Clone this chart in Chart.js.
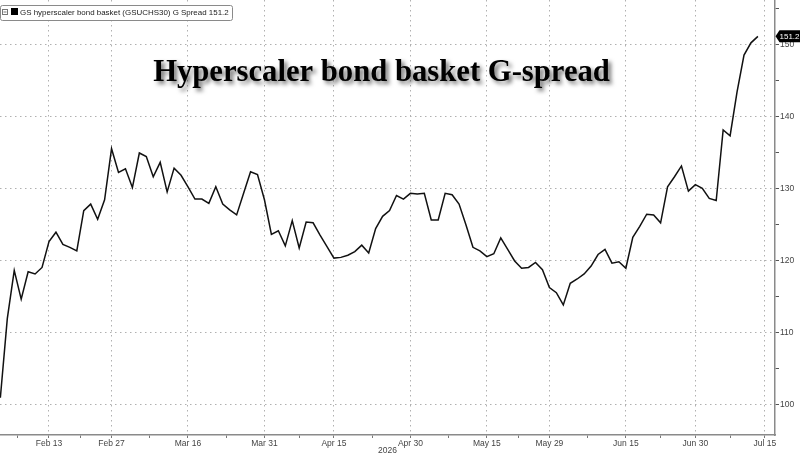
<!DOCTYPE html>
<html><head><meta charset="utf-8">
<script src="https://cdn.jsdelivr.net/npm/chart.js@4.4.1/dist/chart.umd.min.js"></script>
<style>html,body{margin:0;padding:0;background:#fff;}canvas{display:block;}</style>
</head><body>
<canvas id="c" width="800" height="456"></canvas>
<script>
const titleText = 'Hyperscaler bond basket G-spread';
const seriesName = 'GS hyperscaler bond basket (GSUCHS30) G Spread';
const yearLabel = '2026';

const dates = [
 '2026-02-04','2026-02-05','2026-02-06','2026-02-09','2026-02-10','2026-02-11','2026-02-12','2026-02-13',
 '2026-02-17','2026-02-18','2026-02-19','2026-02-20','2026-02-23','2026-02-24','2026-02-25','2026-02-26','2026-02-27',
 '2026-03-02','2026-03-03','2026-03-04','2026-03-05','2026-03-06','2026-03-09','2026-03-10','2026-03-11','2026-03-12','2026-03-13',
 '2026-03-16','2026-03-17','2026-03-18','2026-03-19','2026-03-20','2026-03-23','2026-03-24','2026-03-25','2026-03-26','2026-03-27',
 '2026-03-30','2026-03-31','2026-04-01','2026-04-02','2026-04-06','2026-04-07','2026-04-08','2026-04-09','2026-04-10',
 '2026-04-13','2026-04-14','2026-04-15','2026-04-16','2026-04-17','2026-04-20','2026-04-21','2026-04-22','2026-04-23','2026-04-24',
 '2026-04-27','2026-04-28','2026-04-29','2026-04-30','2026-05-01','2026-05-04','2026-05-05','2026-05-06','2026-05-07','2026-05-08',
 '2026-05-11','2026-05-12','2026-05-13','2026-05-14','2026-05-15','2026-05-18','2026-05-19','2026-05-20','2026-05-21','2026-05-22',
 '2026-05-26','2026-05-27','2026-05-28','2026-05-29','2026-06-01','2026-06-02','2026-06-03','2026-06-04','2026-06-05',
 '2026-06-08','2026-06-09','2026-06-10','2026-06-11','2026-06-12','2026-06-15','2026-06-16','2026-06-17','2026-06-18',
 '2026-06-22','2026-06-23','2026-06-24','2026-06-25','2026-06-26','2026-06-29','2026-06-30','2026-07-01','2026-07-02',
 '2026-07-06','2026-07-07','2026-07-08','2026-07-09','2026-07-10','2026-07-13','2026-07-14'
];

const spread = [
 101.0,112.0,118.7,114.7,118.5,118.2,119.1,122.7,
 124.0,122.3,121.9,121.4,127.0,127.9,125.8,128.5,135.6,
 132.3,132.8,130.2,135.0,134.5,131.7,133.7,129.6,132.9,131.9,
 130.3,128.6,128.6,128.0,130.3,127.9,127.1,126.4,129.4,132.4,
 132.0,128.5,123.7,124.2,122.1,125.6,121.8,125.4,125.3,
 123.6,122.0,120.4,120.5,120.8,121.3,122.2,121.1,124.5,126.2,
 127.0,129.1,128.6,129.4,129.3,129.4,125.7,125.7,129.4,129.2,
 127.9,125.0,121.9,121.4,120.6,121.0,123.2,121.6,120.0,119.0,
 119.1,119.8,118.8,116.3,115.6,113.9,116.9,117.5,118.2,
 119.3,120.9,121.6,119.7,119.9,119.0,123.3,124.8,126.5,
 126.4,125.3,130.3,131.7,133.2,129.7,130.6,130.1,128.7,
 128.4,138.2,137.4,143.5,148.6,150.3,151.2
];

const xTickDates = ['2026-02-13','2026-02-27','2026-03-16','2026-03-31','2026-04-15','2026-04-30','2026-05-15','2026-05-29','2026-06-15','2026-06-30','2026-07-15'];
const xTickLabels = ['Feb 13','Feb 27','Mar 16','Mar 31','Apr 15','Apr 30','May 15','May 29','Jun 15','Jun 30','Jul 15'];
const yTickValues = [100,110,120,130,140,150];

// trading-day index of each tick date (Jul 15 is the session after the last one)
const idxOf = d => { const i = dates.indexOf(d); return i >= 0 ? i : dates.length; };
const majorX = xTickDates.map(idxOf);
const minorX = [majorX[0] - (majorX[1] - majorX[0]) / 2];
for (let i = 1; i < majorX.length; i++) minorX.push((majorX[i - 1] + majorX[i]) / 2);
const xLabelAt = {};
majorX.forEach((v, i) => { xLabelAt[v] = xTickLabels[i]; });
const minorY = yTickValues.map(v => v + 5);

const points = spread.map((v, i) => ({x: i, y: v}));
const lastVal = spread[spread.length - 1];

const AXIS_FONT = {family: '"Liberation Sans", Arial, sans-serif', size: 8.5};
const GRID = '#b0b0b0';

const overlay = {
  id: 'overlay',
  afterDraw(chart) {
    const ctx = chart.ctx;
    const area = chart.chartArea;
    const ys = chart.scales.y;
    ctx.save();
    ctx.font = 'bold 30px "Liberation Serif", "Times New Roman", serif';
    let w = ctx.measureText(titleText).width;
    const ts = 30 * 457 / w;
    ctx.font = 'bold ' + ts.toFixed(2) + 'px "Liberation Serif", "Times New Roman", serif';
    ctx.textAlign = 'center';
    ctx.textBaseline = 'alphabetic';
    ctx.shadowColor = 'rgba(0,0,0,0.55)';
    ctx.shadowBlur = 4;
    ctx.shadowOffsetX = 3;
    ctx.shadowOffsetY = 3;
    ctx.fillStyle = '#000';
    ctx.fillText(titleText, 381.5, 81);
    ctx.restore();

    // Legend box
    ctx.save();
    ctx.fillStyle = '#fff';
    ctx.strokeStyle = '#8a8a8a';
    ctx.lineWidth = 1;
    ctx.beginPath();
    if (ctx.roundRect) ctx.roundRect(0.5, 5.5, 232, 15, 2); else ctx.rect(0.5, 5.5, 232, 15);
    ctx.fill();
    ctx.stroke();
    ctx.strokeStyle = '#777';
    ctx.strokeRect(2.5, 9.5, 5, 5);
    ctx.beginPath(); ctx.moveTo(3.5, 12); ctx.lineTo(6.5, 12); ctx.stroke();
    ctx.fillStyle = '#000';
    ctx.fillRect(11, 8, 7, 7);
    const legendText = seriesName + ' ' + lastVal.toFixed(1);
    ctx.font = '9px "Liberation Sans", Arial, sans-serif';
    w = ctx.measureText(legendText).width;
    const ls = 9 * 209 / w;
    ctx.font = ls.toFixed(2) + 'px "Liberation Sans", Arial, sans-serif';
    ctx.fillStyle = '#222';
    ctx.textAlign = 'left';
    ctx.textBaseline = 'alphabetic';
    ctx.fillText(legendText, 20, 14.8);
    ctx.restore();

    // Year label
    ctx.save();
    ctx.font = '8.5px "Liberation Sans", Arial, sans-serif';
    ctx.fillStyle = '#444';
    ctx.textAlign = 'center';
    ctx.textBaseline = 'alphabetic';
    ctx.fillText(yearLabel, (area.left + area.right) / 2, 453);
    ctx.restore();

    // Last value tag
    ctx.save();
    const py = ys.getPixelForValue(lastVal);
    const x0 = area.right + 0.5;
    ctx.fillStyle = '#000';
    ctx.beginPath();
    ctx.moveTo(x0, py);
    ctx.lineTo(x0 + 4, py - 6);
    ctx.lineTo(800, py - 6);
    ctx.lineTo(800, py + 6);
    ctx.lineTo(x0 + 4, py + 6);
    ctx.closePath();
    ctx.fill();
    ctx.fillStyle = '#fff';
    ctx.font = '8px "Liberation Sans", Arial, sans-serif';
    ctx.textAlign = 'left';
    ctx.textBaseline = 'middle';
    ctx.fillText(lastVal.toFixed(1), x0 + 4, py + 0.5);
    ctx.restore();
  }
};

new Chart(document.getElementById('c'), {
  type: 'line',
  data: {
    datasets: [{
      label: seriesName,
      data: points,
      borderColor: '#111',
      borderWidth: 1.5,
      pointRadius: 0,
      tension: 0,
      fill: false
    }]
  },
  options: {
    responsive: false,
    animation: false,
    devicePixelRatio: 1,
    layout: {padding: 0},
    plugins: {legend: {display: false}, title: {display: false}, tooltip: {enabled: false}},
    scales: {
      x: {
        type: 'linear',
        position: 'bottom',
        min: -0.05,
        max: 111.46,
        afterBuildTicks: s => {
          s.ticks = majorX.concat(minorX).sort((a, b) => a - b).map(v => ({value: v}));
        },
        afterFit: s => { s.height = 21; s.paddingLeft = 0; s.paddingRight = 0; },
        ticks: {
          autoSkip: false,
          maxRotation: 0,
          padding: 1,
          color: '#444',
          font: AXIS_FONT,
          callback: v => (xLabelAt[v] !== undefined ? xLabelAt[v] : '')
        },
        grid: {
          color: c => (c.tick && xLabelAt[c.tick.value] !== undefined ? GRID : 'rgba(0,0,0,0)'),
          tickColor: '#777',
          lineWidth: 1,
          tickLength: 3,
          drawTicks: true
        },
        border: {display: true, color: '#8a8a8a', width: 1.5, dash: [1.5, 3.5]}
      },
      y: {
        type: 'linear',
        position: 'right',
        min: 95.83,
        max: 156.25,
        afterBuildTicks: s => {
          s.ticks = yTickValues.concat(minorY).sort((a, b) => a - b).map(v => ({value: v}));
        },
        afterFit: s => { s.width = 25; s.paddingTop = 0; s.paddingBottom = 0; },
        ticks: {
          padding: 1,
          color: '#444',
          font: AXIS_FONT,
          callback: v => (yTickValues.includes(v) ? String(v) : '')
        },
        grid: {
          color: c => (c.tick && yTickValues.includes(c.tick.value) ? GRID : 'rgba(0,0,0,0)'),
          tickColor: '#555',
          lineWidth: 1,
          tickLength: 4,
          drawTicks: true
        },
        border: {display: true, color: '#8a8a8a', width: 1.5, dash: [1.5, 3.5]}
      }
    }
  },
  plugins: [overlay]
});
</script>
</body></html>
